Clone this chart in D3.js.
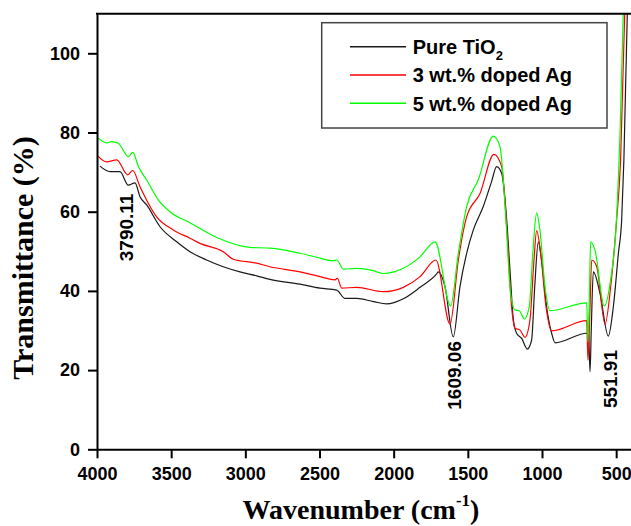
<!DOCTYPE html>
<html><head><meta charset="utf-8">
<script src="https://cdn.jsdelivr.net/npm/d3@7"></script>
<style>
html,body{margin:0;padding:0;background:#fff;}
svg{display:block;}
</style></head>
<body>
<svg id="chart" width="631" height="526"></svg>
<script>
// ---- data (wavenumber cm^-1, transmittance %) ----
const seriesNames = ["Pure TiO2", "3 wt.% doped Ag", "5 wt.% doped Ag"];
const seriesColors = ["#1a1a1a", "#ff0000", "#00ff00"];

const pureTiO2 = [
 [3980,71.5],[3912,70.1],[3845,70.1],[3789,66.7],[3744,67.3],[3710,63.8],[3665,61.7],[3575,56.2],
 [3463,52.4],[3373,49.9],[3261,47.8],[3149,46.1],[3036,44.8],[2923,43.8],[2834,42.9],[2631,41.7],
 [2497,40.7],[2384,40.2],[2328,38.1],[2249,38.1],[2137,37.3],[2047,36.7],[1935,38.0],[1822,40.9],
 [1710,44.3],[1699,44.8],[1654,41.1],[1598,28.4],[1553,41.1],[1508,49.5],[1463,55.4],[1396,61.3],
 [1340,67.6],[1306,71.4],[1272,69.7],[1238,57.9],[1216,45.3],[1193,32.7],[1171,29.3],[1137,28.0],
 [1099,25.3],[1070,27.6],[1049,41.1],[1025,52.4],[1003,47.8],[969,36.0],[935,29.3],[912,26.9],
 [699,29.3],[686,28.9],[676,19.6],[668,30.0],[654,44.8],[609,39.4],[553,28.6],[519,36.0],
 [485,49.5],[463,57.9],[448,73.0],[423,113]
];
const doped3 = [
 [4000,74.3],[3935,72.6],[3867,73.1],[3793,69.3],[3759,70.4],[3710,66.3],[3598,58.7],[3486,55.4],
 [3373,53.3],[3306,52.0],[3149,49.9],[3081,48.0],[2923,47.0],[2834,46.1],[2631,44.8],[2497,43.6],
 [2395,42.8],[2380,43.2],[2350,40.7],[2249,40.9],[2070,39.8],[1935,40.9],[1822,43.6],[1715,47.8],
 [1620,31.6],[1564,47.8],[1508,58.7],[1418,64.6],[1324,74.5],[1272,71.4],[1234,53.7],[1205,36.0],
 [1182,30.6],[1148,30.1],[1115,28.3],[1081,32.7],[1054,47.8],[1036,55.2],[1009,49.5],[973,36.0],
 [935,29.9],[699,32.5],[690,22.5],[677,35.0],[665,47.8],[631,46.1],[575,31.6],[537,41.1],
 [497,57.9],[470,73.1],[440,113]
];
const doped5 = [
 [4000,78.9],[3935,77.4],[3901,77.7],[3856,77.3],[3789,73.9],[3759,75.0],[3721,71.4],[3665,68.0],
 [3587,63.0],[3508,60.0],[3373,57.2],[3193,53.5],[2969,51.0],[2834,50.8],[2631,49.5],[2519,48.5],
 [2407,47.6],[2384,47.8],[2339,45.5],[2249,45.7],[2137,45.1],[2070,44.4],[1935,45.7],[1822,48.6],
 [1721,52.4],[1616,36.2],[1564,49.5],[1508,61.3],[1430,68.0],[1328,79.1],[1283,76.4],[1243,57.9],
 [1212,39.4],[1182,35.2],[1153,35.0],[1119,32.9],[1086,36.0],[1059,51.2],[1036,59.7],[1014,55.4],
 [980,41.1],[946,35.0],[699,37.0],[690,27.2],[680,40.0],[672,52.4],[643,50.3],[580,36.2],
 [541,41.9],[497,58.7],[474,79.8],[450,113]
];
const seriesData = [pureTiO2, doped3, doped5];

const xTicks = [4000, 3500, 3000, 2500, 2000, 1500, 1000, 500];
const yTicks = [0, 20, 40, 60, 80, 100];
const annotations = [["3790.11", 3790.11, 47.5], ["1609.06", 1609.06, 10], ["551.91", 551.91, 10.4]];

// ---- layout ----
const svg = d3.select("#chart");
const L = 97, R = 631, T = 13.7, B = 449.3;
const x = d3.scaleLinear().domain([4000, 400]).range([L, R]);
const y = d3.scaleLinear().domain([0, 110]).range([B, T]);

svg.append("defs").append("clipPath").attr("id", "clip")
  .append("rect").attr("x", L).attr("y", T).attr("width", R - L).attr("height", B - T);

const line = d3.line().x(d => x(d[0])).y(d => y(d[1])).curve(d3.curveMonotoneX);
const plot = svg.append("g").attr("clip-path", "url(#clip)");
seriesData.forEach((s, i) => {
  plot.append("path").datum(s).attr("d", line)
    .attr("fill", "none").attr("stroke", seriesColors[i]).attr("stroke-width", 1.2)
    .attr("stroke-linejoin", "round");
});

// axes
const tickFont = "bold 18px 'Liberation Sans', Arial, sans-serif";
const xAxis = svg.append("g").attr("transform", `translate(0,${B})`)
  .call(d3.axisBottom(x).tickValues(xTicks).tickFormat(d3.format("d")).tickSize(9).tickSizeOuter(0).tickPadding(9));
const yAxis = svg.append("g").attr("transform", `translate(${L},0)`)
  .call(d3.axisLeft(y).tickValues(yTicks).tickFormat(d3.format("d")).tickSize(9).tickSizeOuter(0).tickPadding(8));
[xAxis, yAxis].forEach(a => {
  a.select(".domain").attr("stroke", "#000").attr("stroke-width", 2);
  a.selectAll(".tick line").attr("stroke", "#000").attr("stroke-width", 2);
  a.selectAll(".tick text").style("font", tickFont).attr("fill", "#000");
});
// top frame
svg.append("line").attr("x1", L - 1).attr("x2", R).attr("y1", T).attr("y2", T)
  .attr("stroke", "#000").attr("stroke-width", 2);

// axis titles
const titleFont = "bold 28px 'Liberation Serif', 'Times New Roman', serif";
const xt = svg.append("text").attr("x", (L + R) / 2 - 3).attr("y", 519).attr("text-anchor", "middle")
  .style("font", titleFont).attr("fill", "#000");
xt.append("tspan").text("Wavenumber (cm");
xt.append("tspan").text("-1").style("font-size", "17px").attr("dy", -13);
xt.append("tspan").text(")").attr("dy", 13);

svg.append("text").attr("transform", `translate(33,258) rotate(-90)`).attr("text-anchor", "middle")
  .style("font", "bold 30px 'Liberation Serif', 'Times New Roman', serif").attr("fill", "#000")
  .text("Transmittance (%)");

// annotations
const annFont = "bold 19px 'Liberation Sans', Arial, sans-serif";
const annDx = [5, 9.5, 8.5];
annotations.forEach((a, i) => {
  svg.append("text").attr("transform", `translate(${x(a[1]) + annDx[i]},${y(a[2])}) rotate(-90)`)
    .style("font", annFont).attr("fill", "#000").text(a[0]);
});

// legend
const lg = svg.append("g");
lg.append("rect").attr("x", 321.7).attr("y", 22.7).attr("width", 285.3).attr("height", 105.3)
  .attr("fill", "#fff").attr("stroke", "#444").attr("stroke-width", 1.5);
const legFont = "bold 20px 'Liberation Sans', Arial, sans-serif";
seriesNames.forEach((n, i) => {
  const by = 54 + i * 28.3;
  lg.append("line").attr("x1", 350).attr("x2", 406).attr("y1", by - 7.3).attr("y2", by - 7.3)
    .attr("stroke", seriesColors[i]).attr("stroke-width", 1.5);
  const t = lg.append("text").attr("x", 412.7).attr("y", by).style("font", legFont).attr("fill", "#000");
  if (n === "Pure TiO2") {
    t.append("tspan").text("Pure TiO");
    t.append("tspan").text("2").style("font-size", "13px").attr("dy", 6);
  } else {
    t.text(n);
  }
});
</script>
</body></html>
